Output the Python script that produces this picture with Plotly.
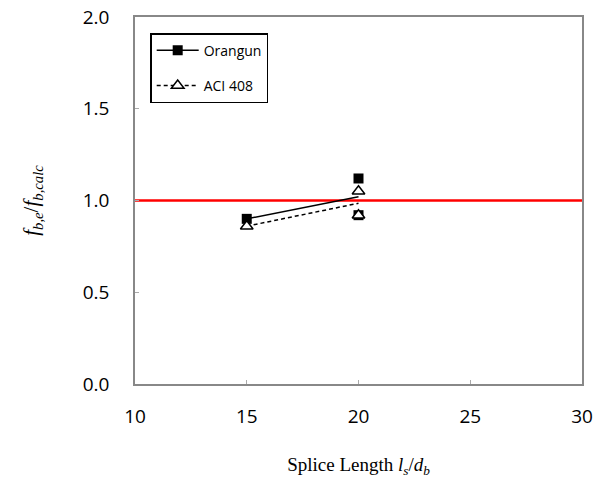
import plotly.graph_objects as go
import numpy as np

# Data
splice_length = [15, 20, 20]
orangun = [0.90, 1.12, 0.92]
aci408 = [0.86, 1.05, 0.92]
x_ticks = [10, 15, 20, 25, 30]
y_ticks = [0.0, 0.5, 1.0, 1.5, 2.0]
ref_value = 1.0

def mean_by_x(xs, ys):
    ux = sorted(set(xs))
    return ux, [float(np.mean([y for x, y in zip(xs, ys) if x == u])) for u in ux]

fig = go.Figure()

# reference line
fig.add_trace(go.Scatter(x=[x_ticks[0], x_ticks[-1]], y=[ref_value, ref_value], mode="lines",
                         line=dict(color="#ff0000", width=2.5), showlegend=False, hoverinfo="skip"))

ox, oy = mean_by_x(splice_length, orangun)
ax, ay = mean_by_x(splice_length, aci408)

dash_style = "4px,3px"
fig.add_trace(go.Scatter(x=ax, y=ay, mode="lines", line=dict(color="black", width=1.5, dash=dash_style),
                         showlegend=False))
fig.add_trace(go.Scatter(x=ox, y=oy, mode="lines", line=dict(color="black", width=1.5),
                         showlegend=False))

fig.add_trace(go.Scatter(x=splice_length, y=orangun, mode="markers",
                         marker=dict(symbol="square", size=10, color="black"), showlegend=False))
fig.add_trace(go.Scatter(x=splice_length, y=aci408, mode="markers",
                         marker=dict(symbol="triangle-up", size=11, color="white",
                                     line=dict(color="black", width=1.5)), showlegend=False))

# legend entries
fig.add_trace(go.Scatter(x=[None], y=[None], mode="lines+markers", name="Orangun", legendgroup="a",
                         line=dict(color="black", width=1.5),
                         marker=dict(symbol="square", size=10, color="black")))
fig.add_trace(go.Scatter(x=[None], y=[None], mode="lines+markers", name="ACI 408", legendgroup="b",
                         line=dict(color="black", width=1.5, dash=dash_style),
                         marker=dict(symbol="triangle-up", size=11, color="white",
                                     line=dict(color="black", width=1.5))))

axis_common = dict(showgrid=False, zeroline=False, showline=True, linecolor="#888888", linewidth=1.5,
                   mirror=True, ticks="inside", ticklen=4, tickcolor="#aaaaaa", automargin=False,
                   tickfont=dict(family="Open Sans, Liberation Sans", size=19, color="black"))

fig.update_layout(
    width=609, height=479,
    margin=dict(l=135, r=27, t=17, b=95),
    paper_bgcolor="white", plot_bgcolor="white",
    xaxis=dict(range=[10, 30], tickvals=x_ticks, ticktext=[str(v) for v in x_ticks],
               ticklabelstandoff=14,
               title=dict(text="Splice Length <i>l<sub>s</sub></i>/<i>d<sub>b</sub></i>",
                          font=dict(family="Liberation Serif", size=19, color="black"), standoff=30),
               **axis_common),
    yaxis=dict(range=[0, 2], tickvals=y_ticks, ticktext=[f"{v:.1f}" for v in y_ticks],
               ticklabelstandoff=20,
               title=dict(text="<i>f<sub>b,e</sub></i>/<i>f<sub>b,calc</sub></i>",
                          font=dict(family="Liberation Serif", size=21, color="black"), standoff=38),
               **axis_common),
    legend=dict(x=0.034, y=0.956, xanchor="left", yanchor="top", bordercolor="black", borderwidth=1.5,
                bgcolor="white", font=dict(family="Open Sans, Liberation Sans", size=14, color="black"),
                traceorder="grouped", tracegroupgap=14, itemwidth=42),
)

fig.write_html("out.html", config={"displayModeBar": False},
               post_script="document.body.style.margin='0';document.body.style.overflow='hidden';")
